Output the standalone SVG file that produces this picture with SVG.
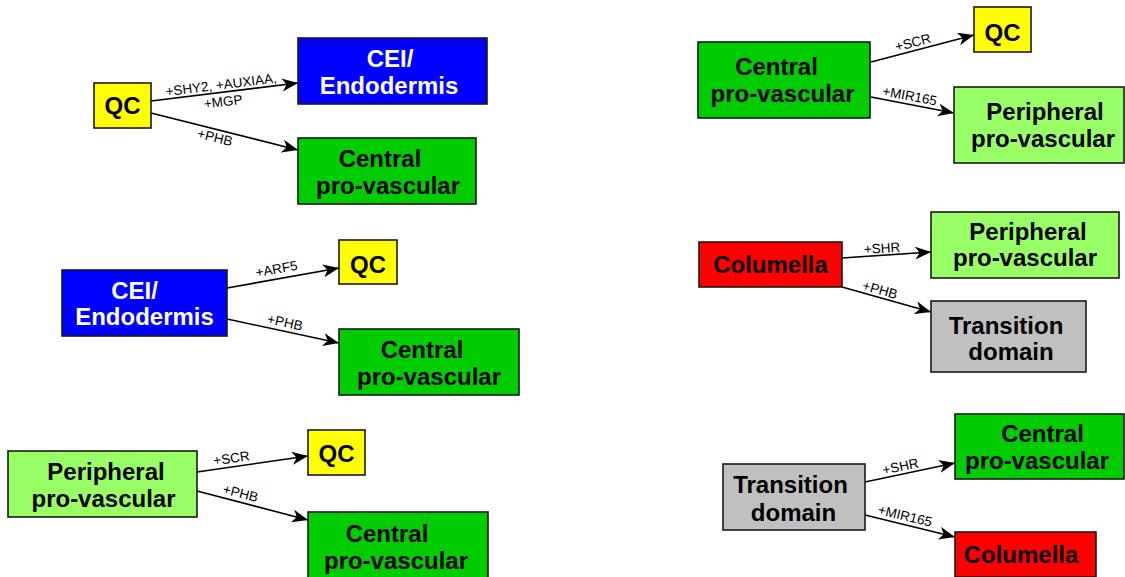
<svg xmlns="http://www.w3.org/2000/svg" width="1125" height="577" viewBox="0 0 1125 577">
<style>
.box{stroke:#1a1a1a;stroke-width:1.6}
.t{font-family:"Liberation Sans",Arial,Helvetica,sans-serif;font-weight:bold;font-size:24px;text-anchor:middle;fill:#000}
.w{fill:#fff}
.yel{fill:#ffff00}.blu{fill:#0000ff}.grn{fill:#00cc00}.lgr{fill:#99ff66}.red{fill:#ff0000}.gry{fill:#c0c0c0}
.e{stroke:#000;stroke-width:1.6;fill:none;marker-end:url(#ah)}
.l{font-family:"Liberation Sans",Arial,Helvetica,sans-serif;font-size:13.5px;text-anchor:middle;fill:#000}
</style>
<defs>
<marker id="ah" markerUnits="userSpaceOnUse" markerWidth="18" markerHeight="14" refX="16" refY="6.5" orient="auto">
<path d="M0,0 L16,6.5 L0,13 L4.5,6.5 Z" fill="#000"/>
</marker>
</defs>
<rect width="1125" height="577" fill="#fff"/>
<g id="connectors">
<line class="e" x1="151" y1="101" x2="298" y2="83"/>
<line class="e" x1="151" y1="113" x2="298" y2="150"/>
<line class="e" x1="227" y1="288" x2="339" y2="268"/>
<line class="e" x1="227" y1="319" x2="339" y2="343"/>
<line class="e" x1="197" y1="472" x2="308" y2="456"/>
<line class="e" x1="197" y1="491" x2="308" y2="520"/>
<line class="e" x1="871" y1="62" x2="974" y2="35"/>
<line class="e" x1="871" y1="97" x2="954" y2="113"/>
<line class="e" x1="842" y1="258" x2="931" y2="252"/>
<line class="e" x1="842" y1="287" x2="931" y2="312"/>
<line class="e" x1="865" y1="482" x2="955" y2="463"/>
<line class="e" x1="865" y1="515" x2="955" y2="537"/>
<g transform="rotate(-7 224.5 92)"><text class="l" x="222" y="89">+SHY2, +AUXIAA,</text><text class="l" x="222" y="106">+MGP</text></g>
<text class="l" x="215" y="142" transform="rotate(14.1 215 137.5)">+PHB</text>
<text class="l" x="276.5" y="273.5" transform="rotate(-10.1 276.5 269)">+ARF5</text>
<text class="l" x="285" y="327" transform="rotate(12.1 285 322.5)">+PHB</text>
<text class="l" x="231.5" y="462.8" transform="rotate(-8.2 231.5 458.3)">+SCR</text>
<text class="l" x="240.5" y="497.8" transform="rotate(14.6 240.5 493.3)">+PHB</text>
<text class="l" x="913" y="47" transform="rotate(-14.7 913 42.5)">+SCR</text>
<text class="l" x="909.7" y="100.5" transform="rotate(10.9 909.7 96)">+MIR165</text>
<text class="l" x="882" y="252.8" transform="rotate(-3.9 882 248.3)">+SHR</text>
<text class="l" x="880" y="294.5" transform="rotate(15.7 880 290)">+PHB</text>
<text class="l" x="900.5" y="471" transform="rotate(-11.9 900.5 466.5)">+SHR</text>
<text class="l" x="905" y="520.5" transform="rotate(13.7 905 516)">+MIR165</text>
</g>
<g id="n1"><rect class="box yel" x="94" y="83" width="57" height="45"/><text class="t" x="122.5" y="113.5">QC</text></g>
<g id="n2"><rect class="box blu" x="298" y="38" width="189" height="66"/><text class="t w" x="390" y="66.5">CEI/</text><text class="t w" x="389" y="93.5">Endodermis</text></g>
<g id="n3"><rect class="box grn" x="298" y="138" width="178" height="66"/><text class="t" x="380" y="166.5">Central</text><text class="t" x="388" y="193.5">pro-vascular</text></g>
<g id="n4"><rect class="box blu" x="62" y="270" width="165" height="66"/><text class="t w" x="134.5" y="298.5">CEI/</text><text class="t w" x="144.5" y="325">Endodermis</text></g>
<g id="n5"><rect class="box yel" x="339" y="240" width="58" height="44"/><text class="t" x="368" y="272.5">QC</text></g>
<g id="n6"><rect class="box grn" x="339" y="329" width="180" height="66"/><text class="t" x="422" y="358">Central</text><text class="t" x="429" y="385">pro-vascular</text></g>
<g id="n7"><rect class="box lgr" x="8" y="451" width="189" height="66"/><text class="t" x="106" y="479.5">Peripheral</text><text class="t" x="103.5" y="506.5">pro-vascular</text></g>
<g id="n8"><rect class="box yel" x="308" y="430" width="57" height="45"/><text class="t" x="336.5" y="462">QC</text></g>
<g id="n9"><rect class="box grn" x="308" y="512" width="180" height="67"/><text class="t" x="387" y="541.5">Central</text><text class="t" x="396" y="568.5">pro-vascular</text></g>
<g id="n10"><rect class="box grn" x="698" y="42" width="172" height="76"/><text class="t" x="776.5" y="75">Central</text><text class="t" x="782.5" y="102">pro-vascular</text></g>
<g id="n11"><rect class="box yel" x="974" y="7" width="57" height="45"/><text class="t" x="1002.5" y="40.5">QC</text></g>
<g id="n12"><rect class="box lgr" x="954" y="87" width="170" height="76"/><text class="t" x="1045" y="120">Peripheral</text><text class="t" x="1043" y="147">pro-vascular</text></g>
<g id="n13"><rect class="box red" x="699" y="242" width="143" height="45"/><text class="t" x="770.5" y="272.5">Columella</text></g>
<g id="n14"><rect class="box lgr" x="931" y="212" width="188" height="66"/><text class="t" x="1028" y="239.5">Peripheral</text><text class="t" x="1025" y="266">pro-vascular</text></g>
<g id="n15"><rect class="box gry" x="931" y="301" width="155" height="71"/><text class="t" x="1006" y="333.5">Transition</text><text class="t" x="1011" y="360">domain</text></g>
<g id="n16"><rect class="box gry" x="723" y="464" width="142" height="66"/><text class="t" x="790.5" y="493">Transition</text><text class="t" x="793.5" y="521">domain</text></g>
<g id="n17"><rect class="box grn" x="955" y="414" width="169" height="65"/><text class="t" x="1042.5" y="441.5">Central</text><text class="t" x="1037" y="469">pro-vascular</text></g>
<g id="n18"><rect class="box red" x="955" y="532" width="141" height="45"/><text class="t" x="1021" y="562.5">Columella</text></g>
</svg>
